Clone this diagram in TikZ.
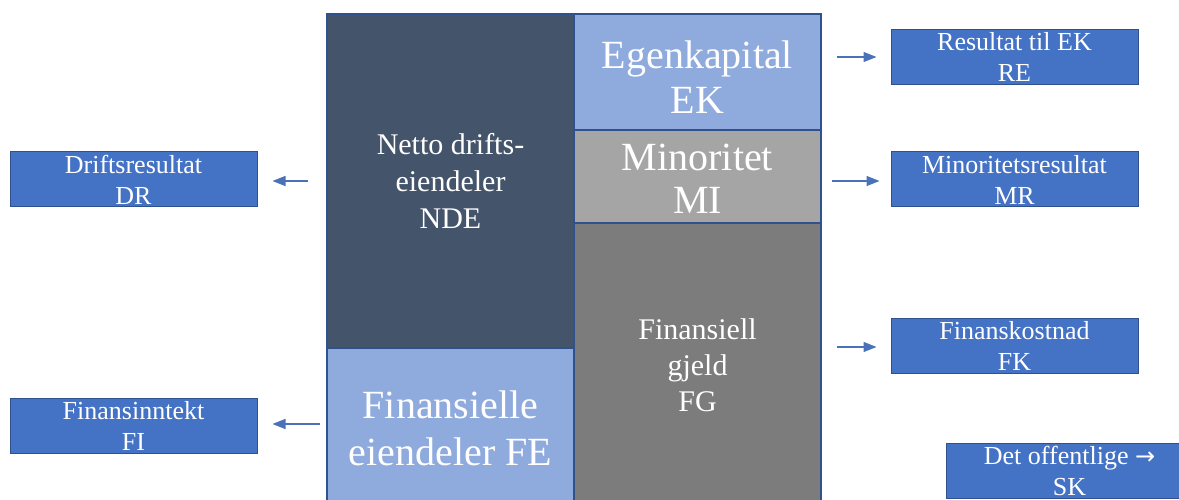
\documentclass[tikz,border=0pt]{standalone}
\usepackage{fontspec}
\setmainfont{Liberation Serif}
\newfontfamily\symbolfont{DejaVu Sans}
\usetikzlibrary{arrows.meta}
\definecolor{edge}{HTML}{2F528F}
\definecolor{boxblue}{HTML}{4472C4}
\definecolor{slate}{HTML}{44546A}
\definecolor{lightblue}{HTML}{8FAADC}
\definecolor{midgray}{HTML}{A5A5A5}
\definecolor{darkgray}{HTML}{7C7C7C}
\definecolor{arrowblue}{HTML}{4A72B8}
\begin{document}
\begin{tikzpicture}[x=1pt,y=-1pt,
  region/.style={draw=edge, line width=1.3pt, inner sep=0pt, text=white,
    align=center, minimum width=247pt},
  inlabel/.style={text=white, align=center, inner sep=0pt},
  small/.style={font=\fontsize{30}{37}\selectfont},
  sidebox/.style={draw=edge, line width=1pt, fill=boxblue, text=white,
    inner sep=0pt, align=center, minimum width=247pt, minimum height=55pt,
    font=\fontsize{26}{31}\selectfont},
  flow/.style={draw=arrowblue, line width=1.1pt,
    -{Triangle[length=13pt,width=10pt]}}]
\useasboundingbox (0,0) rectangle (1179,500);
\clip (0,0) rectangle (1179,500);
\fill[white] (0,0) rectangle (1179,500);

% balance sheet block
\node[region, small, fill=slate, minimum height=334pt] (nde) at (450.5,181)
  {Netto drifts-\\eiendeler\\NDE};
\node[region, fill=lightblue, minimum height=160pt,
  font=\fontsize{40}{47}\selectfont] (fe) at (450.5,428)
  {Finansielle\\eiendeler FE};
\node[region, fill=lightblue, minimum height=116pt,
  label={[inlabel, yshift=-5pt, font=\fontsize{40}{45}\selectfont]center:Egenkapital\\EK}]
  (ek) at (697.5,72) {};
\node[region, fill=midgray, minimum height=93pt,
  label={[inlabel, yshift=-2.5pt, font=\fontsize{40}{43}\selectfont]center:Minoritet\\MI}]
  (mi) at (697.5,176.5) {};
\node[region, fill=darkgray, minimum height=285pt,
  font=\fontsize{30}{36}\selectfont] (fg) at (697.5,365.5)
  {Finansiell\\gjeld\\FG};

% result boxes
\node[sidebox] (dr) at (133.5,179.5) {Driftsresultat\\DR};
\node[sidebox] (fi) at (133.5,425.5) {Finansinntekt\\FI};
\node[sidebox] (re) at (1014.5,57) {Resultat til EK\\RE};
\node[sidebox] (mr) at (1014.5,179.5) {Minoritetsresultat\\MR};
\node[sidebox] (fk) at (1014.5,345.5) {Finanskostnad\\FK};
\node[sidebox, minimum height=55pt] (sk) at (1069.5,470.5)
  {Det offentlige {\symbolfont\fontsize{24}{31}\selectfont →}\\SK};

% flows
\coordinate (drs) at (308,181);
\coordinate (fis) at (320,424);
\coordinate (res) at (837,57);
\coordinate (mrs) at (832,181);
\coordinate (fks) at (837,347);
\draw[flow, shorten >=15pt] (drs) -- (drs -| dr.east);
\draw[flow, shorten >=15pt] (fis) -- (fis -| fi.east);
\draw[flow, shorten >=14pt] (res) -- (res -| re.west);
\draw[flow, shorten >=11pt] (mrs) -- (mrs -| mr.west);
\draw[flow, shorten >=14pt] (fks) -- (fks -| fk.west);
\end{tikzpicture}
\end{document}
